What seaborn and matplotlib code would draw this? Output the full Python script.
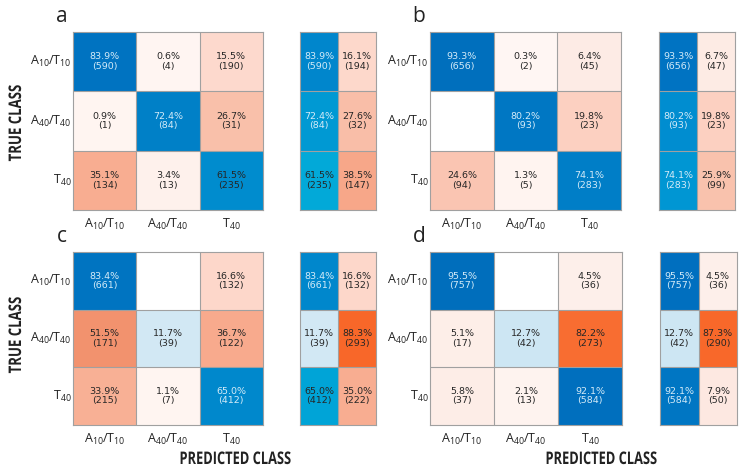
import numpy as np
import matplotlib
matplotlib.use("Agg")
import matplotlib.pyplot as plt
import matplotlib.patheffects as pe
import seaborn as sns
from matplotlib.colors import LinearSegmentedColormap
from matplotlib.transforms import Affine2D

classes = [r"$\mathregular{A_{10}/T_{10}}$", r"$\mathregular{A_{40}/T_{40}}$", r"$\mathregular{T_{40}}$"]
panel_labels = ["a", "b", "c", "d"]

# row-normalised percentages and counts of the confusion matrices
pct_a = [[83.9, 0.6, 15.5], [0.9, 72.4, 26.7], [35.1, 3.4, 61.5]]
cnt_a = [[590, 4, 190], [1, 84, 31], [134, 13, 235]]
pct_b = [[93.3, 0.3, 6.4], [0.0, 80.2, 19.8], [24.6, 1.3, 74.1]]
cnt_b = [[656, 2, 45], [0, 93, 23], [94, 5, 283]]
pct_c = [[83.4, 0.0, 16.6], [51.5, 11.7, 36.7], [33.9, 1.1, 65.0]]
cnt_c = [[661, 0, 132], [171, 39, 122], [215, 7, 412]]
pct_d = [[95.5, 0.0, 4.5], [5.1, 12.7, 82.2], [5.8, 2.1, 92.1]]
cnt_d = [[757, 0, 36], [17, 42, 273], [37, 13, 584]]

# row summaries (correct / incorrect)
side_pct_a = [[83.9, 16.1], [72.4, 27.6], [61.5, 38.5]]
side_cnt_a = [[590, 194], [84, 32], [235, 147]]
side_pct_b = [[93.3, 6.7], [80.2, 19.8], [74.1, 25.9]]
side_cnt_b = [[656, 47], [93, 23], [283, 99]]
side_pct_c = [[83.4, 16.6], [11.7, 88.3], [65.0, 35.0]]
side_cnt_c = [[661, 132], [39, 293], [412, 222]]
side_pct_d = [[95.5, 4.5], [12.7, 87.3], [92.1, 7.9]]
side_cnt_d = [[757, 36], [42, 290], [584, 50]]

sns.set_style("white")
plt.rcParams["font.family"] = ["Open Sans", "DejaVu Sans"]

blue_main = LinearSegmentedColormap.from_list(
    "bm", [(0, "#ffffff"), (0.12, "#cfe7f3"), (0.6, "#008ecf"), (0.85, "#0072c0"), (1, "#006cbb")])
blue_side = LinearSegmentedColormap.from_list(
    "bs", [(0, "#ffffff"), (0.12, "#cfe7f3"), (0.62, "#00a8d8"), (0.8, "#008ed0"), (0.95, "#0070c0"), (1, "#006cbb")])
reds = LinearSegmentedColormap.from_list(
    "rd", [(0, "#fff6f3"), (0.05, "#fdeee8"), (0.17, "#fdd6c9"), (0.27, "#f9bfa9"),
           (0.36, "#f8ab8e"), (0.52, "#f2916d"), (0.85, "#f86a2c"), (1, "#f65f20")])


class Condense(pe.AbstractPathEffect):
    """squeeze glyphs along the text direction (no condensed font installed)"""

    def __init__(self, sx, angle=0):
        super().__init__()
        self.sx = sx
        self.angle = angle

    def draw_path(self, renderer, gc, tpath, affine, rgbFace=None):
        ext = affine.transform_path(tpath).get_extents()
        cx, cy = (ext.x0 + ext.x1) / 2, (ext.y0 + ext.y1) / 2
        squeeze = (Affine2D().translate(-cx, -cy).rotate_deg(-self.angle)
                   .scale(self.sx, 1).rotate_deg(self.angle).translate(cx, cy))
        renderer.draw_path(gc, tpath, affine + squeeze, rgbFace)


W, H = 750, 474
fig = plt.figure(figsize=(7.5, 4.74), dpi=100)


def px_axes(l, t, r, b):
    return fig.add_axes([l / W, 1 - b / H, (r - l) / W, (b - t) / H])


def draw(ax, pct, cnt, diag_mask, blue, light_from):
    pct = np.array(pct, dtype=float)
    cnt = np.array(cnt)
    empty = cnt == 0
    sns.heatmap(pct, mask=~diag_mask | empty, cmap=blue, vmin=0, vmax=100,
                cbar=False, ax=ax)
    sns.heatmap(pct, mask=diag_mask | empty, cmap=reds, vmin=0, vmax=100,
                cbar=False, ax=ax)
    nr, nc = pct.shape
    for i in range(nr):
        for j in range(nc):
            if empty[i, j]:
                continue
            light = diag_mask[i, j] and pct[i, j] >= light_from
            ax.text(j + 0.5, i + 0.5, f"{pct[i, j]:.1f}%\n({cnt[i, j]})",
                    ha="center", va="center", fontsize=6.8, linespacing=1.05,
                    family="DejaVu Sans", color="#d4ebf8" if light else "#262626")
    ax.hlines(np.arange(1, nr), 0, nc, color="#a0a0a0", lw=0.8)
    ax.vlines(np.arange(1, nc), 0, nr, color="#a0a0a0", lw=0.8)
    for s in ax.spines.values():
        s.set_visible(True)
        s.set_color("#a0a0a0")
        s.set_linewidth(0.8)
    ax.tick_params(length=0)


main_boxes = [(73, 32, 263, 210), (430, 32, 621, 210), (73, 252, 263, 425), (430, 252, 622, 425)]
side_boxes = [(300, 32, 376, 210), (659, 32, 735, 210), (300, 252, 376, 425), (660, 252, 737, 425)]
mains = [(pct_a, cnt_a), (pct_b, cnt_b), (pct_c, cnt_c), (pct_d, cnt_d)]
sides = [(side_pct_a, side_cnt_a), (side_pct_b, side_cnt_b),
         (side_pct_c, side_cnt_c), (side_pct_d, side_cnt_d)]

for k in range(4):
    ax = px_axes(*main_boxes[k])
    draw(ax, *mains[k], np.eye(3, dtype=bool), blue_main, 63)
    ax.set_xticks(np.arange(3) + 0.5)
    ax.set_xticklabels(classes, fontsize=9, rotation=0, color="#222222")
    ax.set_yticks(np.arange(3) + 0.5)
    ax.set_yticklabels(classes, fontsize=9, rotation=0, color="#222222")
    ax.tick_params(axis="y", pad=1)
    ax.tick_params(axis="x", pad=5)

    sx = px_axes(*side_boxes[k])
    side_mask = np.zeros((3, 2), dtype=bool)
    side_mask[:, 0] = True
    draw(sx, *sides[k], side_mask, blue_side, 70)
    sx.set_xticks([])
    sx.set_yticks([])

    l, t = main_boxes[k][0], main_boxes[k][1]
    fig.text((l - 11) / W, 1 - (t - 16) / H, panel_labels[k], fontsize=15,
             ha="center", va="center", color="#222222")

label_font = dict(family=["Open Sans", "DejaVu Sans"], fontweight="bold",
                  fontsize=12.5, color="#222222")
for yc in (123, 335):
    fig.text(16 / W, 1 - yc / H, "TRUE CLASS", rotation=90, ha="center", va="center",
             path_effects=[Condense(0.76, 90)], **label_font)
for xc in (235, 601):
    fig.text(xc / W, 1 - 459 / H, "PREDICTED CLASS", ha="center", va="center",
             path_effects=[Condense(0.74)], **label_font)

fig.savefig("out.png", dpi=100)
